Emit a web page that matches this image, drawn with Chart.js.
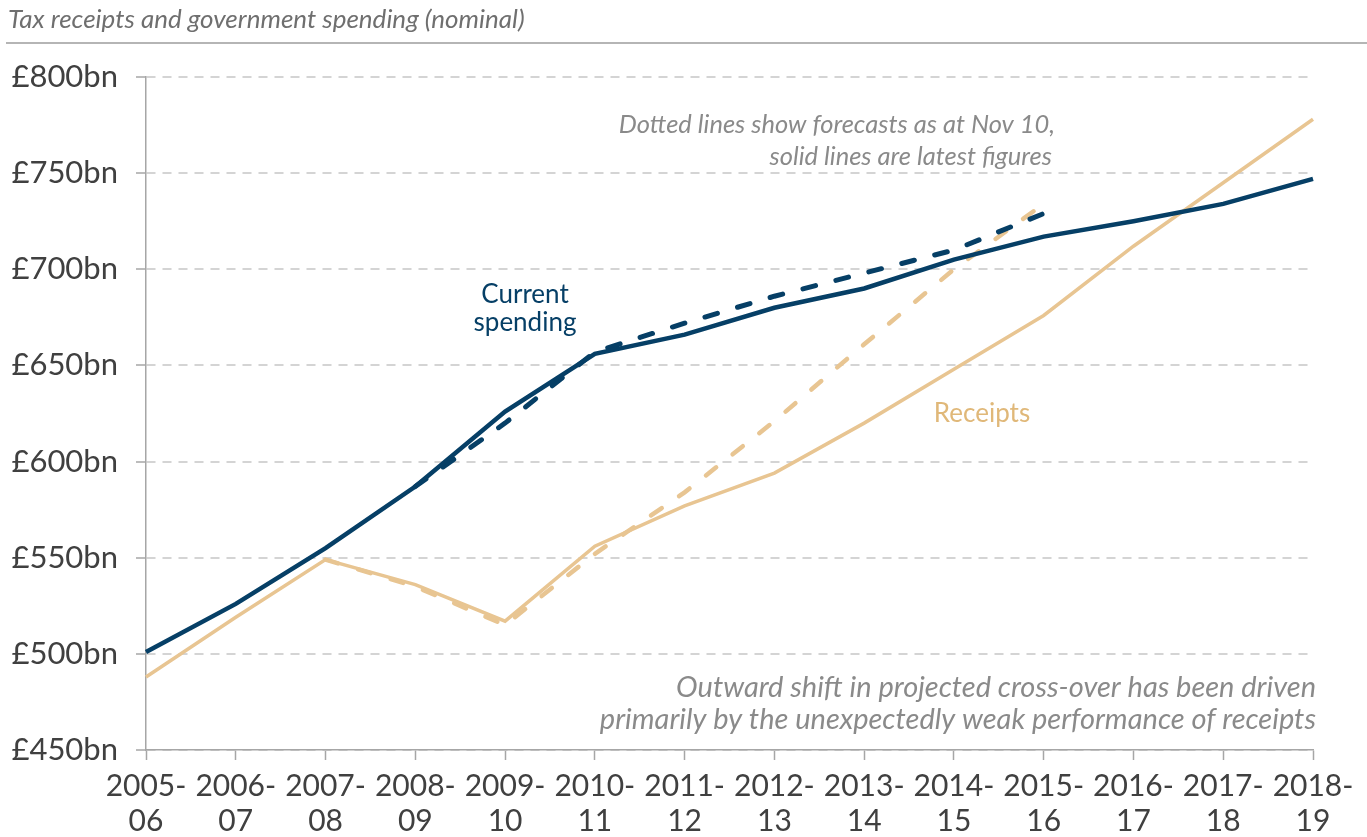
<!DOCTYPE html>
<html>
<head>
<meta charset="utf-8">
<script src="https://cdn.jsdelivr.net/npm/chart.js@4"></script>
<style>
  html, body { margin: 0; padding: 0; background: #fff; }
  #wrap { width: 1367px; height: 837px; position: relative; }
</style>
</head>
<body>
<div id="wrap"><canvas id="chart"></canvas></div>
<script>
const years = [
  ["2005-","06"], ["2006-","07"], ["2007-","08"], ["2008-","09"], ["2009-","10"],
  ["2010-","11"], ["2011-","12"], ["2012-","13"], ["2013-","14"], ["2014-","15"],
  ["2015-","16"], ["2016-","17"], ["2017-","18"], ["2018-","19"]
];

// latest figures (£bn)
const spending = [501, 526, 555, 587, 626, 656, 666, 680, 690, 705, 717, 725, 734, 747];
const receipts = [488, 519, 549, 536, 517, 556, 577, 594, 620, 648, 676, 712, 745, 778];

// forecasts as at Nov 10 (£bn)
const spendingNov10 = [null, null, null, 587, 620, 657, 672, 686, 698, 710, 729, null, null, null];
const receiptsNov10 = [null, null, 549, 535, 515, 552, 584, 621, 661, 700, 734, null, null, null];

const yTicks = [450, 500, 550, 600, 650, 700, 750, 800];

const navy = "#063f66";
const tan = "#e8c592";
const labelFont = "Lato, 'Open Sans', sans-serif";

/* TEXT */

const notes = {
  id: "notes",
  beforeDraw(chart){
    const ctx = chart.ctx;
    ctx.save();
    ctx.fillStyle = "#6f6f6f";
    ctx.font = "italic 26px " + labelFont;
    ctx.textBaseline = "middle";
    ctx.textAlign = "left";
    ctx.fillText("Tax receipts and government spending (nominal)", 8, 20);
    ctx.strokeStyle = "#9c9c9c";
    ctx.lineWidth = 1.5;
    ctx.beginPath();
    ctx.moveTo(6, 43);
    ctx.lineTo(1367, 43);
    ctx.stroke();
    ctx.restore();
  },
  afterDatasetsDraw(chart){
    const ctx = chart.ctx;
    ctx.save();
    ctx.textBaseline = "middle";

    ctx.fillStyle = "#8a8a8a";
    ctx.textAlign = "right";
    ctx.font = "italic 25.5px " + labelFont;
    ctx.fillText("Dotted lines show forecasts as at Nov 10,", 1055, 125);
    ctx.fillText("solid lines are latest figures", 1052, 157);
    ctx.font = "italic 29px " + labelFont;
    ctx.fillText("Outward shift in projected cross-over has been driven", 1316, 688);
    ctx.fillText("primarily by the unexpectedly weak performance of receipts", 1316, 720);

    ctx.textAlign = "center";
    ctx.font = "26px " + labelFont;
    ctx.fillStyle = navy;
    ctx.fillText("Current", 525, 295);
    ctx.fillText("spending", 525, 323);
    ctx.fillStyle = "#e0b879";
    ctx.fillText("Receipts", 982, 414);
    ctx.restore();
  }
};

/* CHART */

new Chart(document.getElementById("chart"), {
  type: "line",
  data: {
    labels: years,
    datasets: [
      {
        label: "Current spending",
        data: spending,
        borderColor: navy,
        borderWidth: 4.5,
        pointRadius: 0,
        tension: 0
      },
      {
        label: "Receipts",
        data: receipts,
        borderColor: tan,
        borderWidth: 3.5,
        pointRadius: 0,
        tension: 0
      },
      {
        label: "Current spending (Nov 10)",
        data: spendingNov10,
        borderColor: navy,
        borderWidth: 5,
        borderDash: [13, 21],
        borderCapStyle: "round",
        pointRadius: 0,
        tension: 0
      },
      {
        label: "Receipts (Nov 10)",
        data: receiptsNov10,
        borderColor: tan,
        borderWidth: 4.5,
        borderDash: [13, 21],
        borderCapStyle: "round",
        pointRadius: 0,
        tension: 0
      }
    ]
  },
  options: {
    responsive: true,
    maintainAspectRatio: false,
    animation: false,
    layout: { padding: { top: 77, right: 54, bottom: 0, left: 0 } },
    plugins: {
      legend: { display: false },
      tooltip: { enabled: false }
    },
    scales: {
      x: {
        offset: false,
        afterFit: s => { s.height = 87; },
        grid: {
          drawOnChartArea: false,
          drawTicks: true,
          tickLength: 10,
          tickColor: "#a6a6a6",
          tickWidth: 1.5
        },
        border: { color: "#a6a6a6", width: 1.5 },
        ticks: {
          padding: 9,
          maxRotation: 0,
          autoSkip: false,
          color: "#404040",
          font: { family: labelFont, size: 30, lineHeight: 1.17 }
        }
      },
      y: {
        min: yTicks[0],
        max: yTicks[yTicks.length - 1],
        afterFit: s => { s.width = 146; },
        afterBuildTicks: s => { s.ticks = yTicks.map(v => ({ value: v })); },
        grid: {
          color: "#d4d4d4",
          lineWidth: 2,
          tickLength: 10,
          tickColor: "#a6a6a6",
          tickWidth: 1.5,
          tickBorderDash: []
        },
        border: { color: "#a6a6a6", width: 1.5, dash: [9, 7] },
        ticks: {
          padding: 18,
          color: "#404040",
          font: { family: labelFont, size: 31 },
          callback: v => "£" + v + "bn"
        }
      }
    }
  },
  plugins: [notes]
});
</script>
</body>
</html>
